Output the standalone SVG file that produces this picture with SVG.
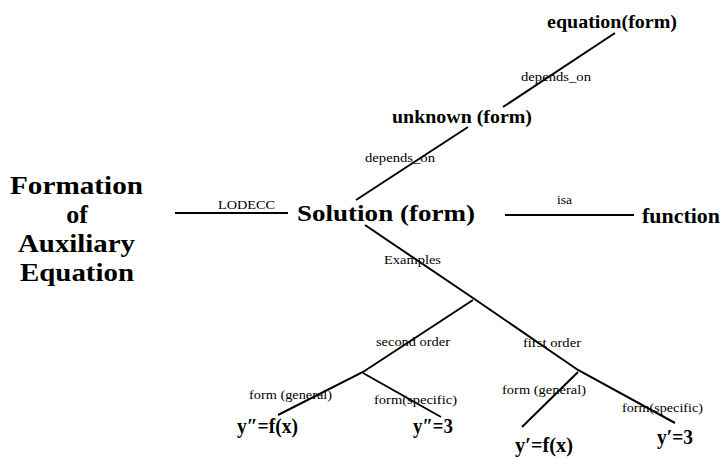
<svg xmlns="http://www.w3.org/2000/svg" width="723" height="458" viewBox="0 0 723 458">
<style>
.node{font-family:"Liberation Serif",serif;font-weight:bold;fill:#000}
.lbl{font-family:"Liberation Serif",serif;font-size:13px;fill:#000}
.c{stroke:#000;stroke-width:2;fill:none;stroke-linecap:butt}
</style>
<rect width="723" height="458" fill="#fff"/>
<g id="connectors">
<line class="c" x1="175" y1="213" x2="288" y2="213"/>
<line class="c" x1="505" y1="215" x2="634" y2="215"/>
<line class="c" x1="356" y1="200" x2="468" y2="127"/>
<line class="c" x1="503" y1="107" x2="615" y2="33"/>
<polyline class="c" points="365,225 473,298 578,370 675,423"/>
<polyline class="c" points="473,300 363,372 278,415"/>
<line class="c" x1="363" y1="373" x2="441" y2="417"/>
<line class="c" x1="578" y1="372" x2="522" y2="427"/>
<text class="lbl" x="218" y="209" textLength="57" lengthAdjust="spacingAndGlyphs">LODECC</text>
<text class="lbl" x="557" y="204" textLength="15" lengthAdjust="spacingAndGlyphs">isa</text>
<text class="lbl" x="521" y="81" textLength="70" lengthAdjust="spacingAndGlyphs">depends_on</text>
<text class="lbl" x="365" y="162" textLength="70" lengthAdjust="spacingAndGlyphs">depends_on</text>
<text class="lbl" x="384" y="264" textLength="57" lengthAdjust="spacingAndGlyphs">Examples</text>
<text class="lbl" x="376" y="346" textLength="74" lengthAdjust="spacingAndGlyphs">second order</text>
<text class="lbl" x="249" y="399" textLength="83" lengthAdjust="spacingAndGlyphs">form (general)</text>
<text class="lbl" x="374" y="404" textLength="83" lengthAdjust="spacingAndGlyphs">form(specific)</text>
<text class="lbl" x="523" y="347" textLength="58" lengthAdjust="spacingAndGlyphs">first order</text>
<text class="lbl" x="502" y="394" textLength="84" lengthAdjust="spacingAndGlyphs">form (general)</text>
<text class="lbl" x="622" y="412" textLength="81" lengthAdjust="spacingAndGlyphs">form(specific)</text>
</g>
<g id="formation">
<text class="node" font-size="26" x="10" y="194" textLength="133" lengthAdjust="spacingAndGlyphs">Formation</text>
<text class="node" font-size="26" x="77" y="223" text-anchor="middle">of</text>
<text class="node" font-size="26" x="18" y="252" textLength="117" lengthAdjust="spacingAndGlyphs">Auxiliary</text>
<text class="node" font-size="26" x="20" y="281" textLength="114" lengthAdjust="spacingAndGlyphs">Equation</text>
</g>
<g id="solution"><text class="node" font-size="23" x="297" y="221" textLength="178" lengthAdjust="spacingAndGlyphs">Solution (form)</text></g>
<g id="unknown"><text class="node" font-size="19" x="392" y="123" textLength="140" lengthAdjust="spacingAndGlyphs">unknown (form)</text></g>
<g id="equation"><text class="node" font-size="19" x="547" y="28" textLength="130" lengthAdjust="spacingAndGlyphs">equation(form)</text></g>
<g id="function"><text class="node" font-size="22" x="642" y="223" textLength="78" lengthAdjust="spacingAndGlyphs">function</text></g>
<g id="y2fx"><text class="node" font-size="20" x="237" y="433" textLength="61" lengthAdjust="spacingAndGlyphs">y″=f(x)</text></g>
<g id="y2c"><text class="node" font-size="20" x="413" y="433" textLength="40" lengthAdjust="spacingAndGlyphs">y″=3</text></g>
<g id="y1fx"><text class="node" font-size="20" x="515" y="452" textLength="58" lengthAdjust="spacingAndGlyphs">y′=f(x)</text></g>
<g id="y1c"><text class="node" font-size="20" x="657" y="444" textLength="36" lengthAdjust="spacingAndGlyphs">y′=3</text></g>
</svg>
